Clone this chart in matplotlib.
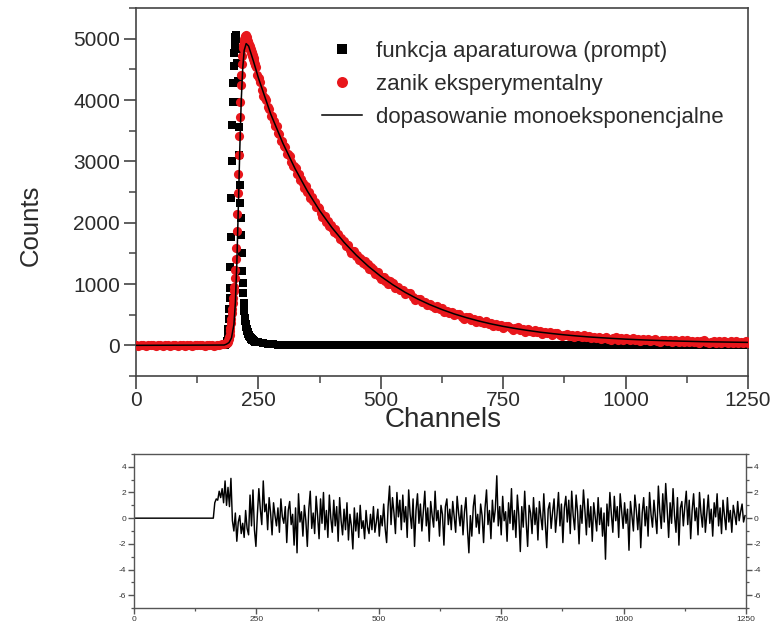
import numpy as np
import matplotlib
matplotlib.use("Agg")
import matplotlib.pyplot as plt
from matplotlib.ticker import MultipleLocator

plt.rcParams['font.family'] = ['Liberation Sans', 'DejaVu Sans']
plt.rcParams['axes.unicode_minus'] = False

# ---------------- data ----------------
# experimental decay (channel -> counts)
decay_ch = (list(range(0, 185, 5)) + list(range(185, 245))
            + list(range(245, 522, 3)) + list(range(525, 1251, 5)))
decay_counts = [
    6, -4, 9, 2, -7, 11, -2, 5, -9, 3, 8, -5, 2, 10, -3, 0, 7, -8, 4, 1,
    -6, 9, 2, -4, 6, 10, -1, 3, -7, 5, 11, 1, -4, 8, 12, 18, 26,
    35, 44, 58, 82, 104, 142, 176, 235, 286, 365, 432, 525, 596, 695, 772,
    880, 955, 1090, 1225, 1410, 1590, 1860, 2140, 2490, 2790, 3110, 3410,
    3730, 3970, 4240, 4410, 4590, 4710, 4840, 4890, 4970, 4990, 5040, 5030,
    5060, 5000, 5020, 4960, 4970, 4910, 4920, 4870, 4880, 4820, 4830, 4770,
    4790, 4720, 4740, 4670, 4690, 4620, 4640, 4570, 4590,
    4545, 4406, 4360, 4295, 4163, 4060, 4035, 3993, 3878, 3851,
    3739, 3733, 3653, 3570, 3577, 3469, 3448, 3338, 3329, 3256,
    3233, 3126, 3115, 3091, 2991, 2918, 2916, 2894, 2797, 2787,
    2692, 2704, 2641, 2573, 2596, 2505, 2500, 2405, 2411, 2352,
    2344, 2252, 2256, 2245, 2159, 2099, 2110, 2101, 2018, 2020,
    1938, 1962, 1911, 1855, 1890, 1810, 1816, 1732, 1749, 1701,
    1704, 1622, 1636, 1635, 1560, 1510, 1530, 1531, 1457, 1468,
    1395, 1427, 1385, 1338, 1381, 1310, 1324, 1248, 1273, 1233,
    1243, 1169, 1190, 1196, 1128, 1085, 1112, 1119, 1052, 1070,
    1004, 1043, 1007,
    1010, 929, 949, 905,
    906, 839, 849, 847, 786, 745, 761, 761, 702, 712,
    653, 680, 647, 610, 646, 590, 603, 544, 566, 535,
    546, 488, 507, 515, 462, 430, 455, 463, 412, 430,
    379, 413, 387, 358, 400, 351, 370, 318, 345, 321,
    337, 285, 310, 322, 275, 248, 278, 291, 245, 266,
    220, 259, 237, 216, 250, 215, 230, 192, 215, 198,
    211, 174, 193, 204, 170, 151, 174, 185, 152, 169,
    135, 165, 150, 132, 167, 134, 152, 117, 141, 126,
    141, 106, 127, 140, 107, 90, 115, 128, 95, 114,
    82, 113, 99, 83, 120, 88, 107, 73, 98, 84,
    101, 66, 89, 102, 71, 55, 80, 94, 63, 83,
    51, 83, 70, 54, 92, 61, 81, 47, 73, 60,
    77, 43, 67, 81, 50, 34, 60, 75, 44, 64,
    34, 66, 53, 38, 76, 45, 66, 32, 59, 46,
    64, 30,
]

# instrument response function (prompt)
prompt_ch = list(range(180, 246)) + list(range(250, 1251, 10))
prompt_counts = [
    4, 7, 11, 17, 27, 44, 78, 148, 262, 425, 590, 770, 940, 1280, 1770,
    2400, 3000, 3590, 3960, 4270, 4560, 4760, 4900, 5020, 5060, 4990, 4830,
    4610, 4310, 3960, 3560, 3110, 2620, 2320, 2080, 1800, 1500, 1210, 1020,
    850, 690, 560, 450, 390, 340, 300, 265, 235, 210, 190, 170, 155, 140,
    128, 118, 108, 100, 92, 86, 80, 75, 70, 66, 62, 58, 55,
    50, 36, 26, 18, 12, 9,
    6, 3, 7, 2, 5, -1, 4, 6, 1, 3, -2, 5, 2, 4, 0, 3, -1, 5, 2, 1,
    4, -2, 3, 0, 5, 1, -1, 4, 2, 0, 3, -2, 1, 4, 0, 2, -1, 3, 1, -2,
    2, 4, 0, 1, -1, 3, 0, 2, -2, 1, 3, 0, -1, 2, 1, -2, 3, 0, 1, -1,
    2, 0, 3, -2, 1, 0, 2, -1, 1, 0, 2, -1, 1, 0, 2, -2, 1, 0, 2, -1,
    1, 0, 2, -1, 1, 0, -2, 1, 0, 2, -1, 1, 0, 1, -1,
]

# mono-exponential fit
fit_ch = [0, 180, 185, 190, 195, 200, 203, 206, 209, 212, 215, 218, 221,
          225, 230, 240, 250] + list(range(275, 1251, 25))
fit_counts = [
    0, 5, 20, 45, 120, 340, 700, 1350, 2250, 3200, 4000, 4520, 4810,
    4920, 4880, 4630, 4360,
    3774, 3296, 2879, 2515, 2198, 1921, 1679, 1469, 1285, 1125, 985, 863,
    757, 664, 583, 512, 451, 397, 350, 309, 274, 243, 215, 192, 171, 153,
    137, 124, 112, 101, 92, 84, 77, 71, 66, 61, 57, 54, 51, 48,
]

# weighted residuals
res_ch = [0, 162] + list(range(165, 1249, 3))
residuals = [
    0, 0,
    1.2, 1.5, 1.4, 2.1, 1.6, 2.3, 1.2, 2.9, 1.0, 2.4, 0.9, 3.1, -0.2, -1.0, 0.4, -1.8, -0.3, 0.2, -1.2, -0.4,
    -1.5, 0.6, -0.8, -1.3, 1.8, -0.6, 2.2, -0.9, -2.2, 0.3, 2.3, 0.7, -0.5, 2.9, 0.5, 1.1, -0.9, 1.6, 0.4, -1.3,
    1.2, 0.2, -0.6, 0.8, -1.1, 1.5, 0.1, -0.4, 0.9, -1.9, 0.6, 1.3, -0.5, 0.3, -2.1, 0.8, -2.7, 1.9, -0.3, 0.5,
    -1.4, 1.0, -0.2, -2.2, 0.7, 2.1, -0.8, 0.4, -1.2, 1.7, 0.2, -1.6, 1.5, -0.4, 2.0, -0.9, 0.6, -1.5, 1.8, 0.0,
    -1.1, 1.4, -0.6, 0.9, -1.8, 1.6, -0.2, -1.3, 0.7, -0.9, 1.2, -1.7, 0.3, -0.6, -2.4, 0.8, -1.0, 0.4, -1.5, 1.0,
    -0.8, -0.2, -1.6, 0.6, -0.7, -1.2, 0.3, -0.9, 0.9, -1.1, -0.3, 0.7, -1.4, 0.2, -0.6, 1.1, -0.8, -1.9, 0.9, 2.5,
    -0.5, 1.6, 0.4, -1.2, 2.0, 0.1, 1.4, -0.9, 1.8, -0.3, 0.9, -1.5, 2.2, 0.3, -0.8, 1.5, -2.2, 0.6, 1.9, -0.4,
    1.1, -1.0, 0.5, 2.1, -0.6, 0.8, -1.8, 1.3, 0.2, -0.7, 2.1, -0.2, 0.6, -1.4, 1.0, 0.3, -2.1, 0.9, 1.5, -0.5,
    0.7, -0.9, 1.3, 0.1, -1.1, 1.7, 0.4, -0.6, 1.0, -1.3, 0.5, 1.6, -0.8, -2.7, 0.2, -1.4, 0.9, 1.8, -0.7, 0.3,
    -1.2, 1.1, 0.2, -1.9, 0.8, 2.2, -0.5, 0.6, -1.6, 1.4, -0.3, 0.7, 3.3, -0.6, 0.9, -1.3, 1.7, -0.2, 0.5, -1.8,
    1.2, -0.4, 2.3, -0.9, 0.6, -1.5, 1.8, 0.2, -2.6, 0.9, -0.7, 2.1, -0.3, -2.2, 1.0, 0.4, -1.2, 1.6, -0.5, 0.8,
    -1.7, 1.3, 0.1, -0.9, 1.9, -0.4, -2.3, 0.7, 1.2, -0.8, 0.5, 1.5, -1.1, 0.3, 2.0, -0.6, 1.1, -1.9, 0.8, 1.7,
    -0.3, 1.4, -1.2, 2.1, 0.2, -0.9, 1.8, 0.5, -2.0, 1.0, -0.4, 2.2, 0.6, -1.3, 1.5, -0.7, 0.9, -1.8, 1.2, 0.1,
    -1.0, 1.6, -0.5, 0.8, -1.4, 0.4, -3.2, 1.1, -0.6, 2.0, 0.3, -1.1, 1.7, -0.2, 0.9, -1.5, 1.9, 0.5, -0.8, 1.2,
    -0.4, 0.7, -2.5, 1.3, 0.2, -1.0, 1.8, 0.6, -0.9, 1.1, -2.3, 0.4, 1.6, -0.6, 0.9, -1.4, 2.0, 0.3, -0.7, 1.4,
    0.1, -1.2, 2.5, 0.5, -0.8, 1.9, -0.3, 2.7, 0.7, -1.5, 1.2, -0.4, 2.3, 0.2, -1.1, 1.6, -2.1, 0.8, 1.3, -0.6,
    0.9, 2.1, -0.5, 1.4, -1.6, 0.6, 1.9, -0.2, 0.8, -1.3, 2.0, 0.4, -0.7, 1.5, -1.1, 0.3, 1.8, -0.4, 0.7, -1.4,
    1.2, 0.1, 1.9, -0.6, 0.8, -1.2, 1.4, 0.2, -0.9, 1.6, -0.3, 0.6, -1.1, 1.0, 0.3, -0.5, 1.3, -0.2, 0.5, 1.1,
    -0.3, 0.2,
]

legend_labels = ['funkcja aparaturowa (prompt)', 'zanik eksperymentalny',
                 'dopasowanie monoeksponencjalne']

W, H = 783, 628
spine_col = '#444444'
text_col = '#2b2b2b'
red = '#e8161b'

fig = plt.figure(figsize=(W / 100, H / 100), dpi=100)

# ---------------- decay panel ----------------
ax = fig.add_axes([136 / W, 1 - 376 / H, 612 / W, 368 / H])
ax.plot(prompt_ch, prompt_counts, ls='none', marker='s', ms=5.8, mew=0,
        color='black', label=legend_labels[0], zorder=2)
ax.plot(decay_ch, decay_counts, ls='none', marker='o', ms=6.6, mew=0,
        color=red, label=legend_labels[1], zorder=3)
ax.plot(fit_ch, fit_counts, color='black', lw=1.1, label=legend_labels[2], zorder=4)

ax.set_xlim(0, 1250)
ax.set_ylim(-500, 5500)
ax.xaxis.set_major_locator(MultipleLocator(250))
ax.xaxis.set_minor_locator(MultipleLocator(125))
ax.yaxis.set_major_locator(MultipleLocator(1000))
ax.yaxis.set_minor_locator(MultipleLocator(500))
ax.tick_params(which='major', direction='out', length=9, width=1.2,
               labelsize=15, color=spine_col, labelcolor=text_col)
ax.tick_params(axis='x', which='major', pad=1.5)
ax.tick_params(axis='y', which='major', pad=2.5)
ax.tick_params(which='minor', direction='out', length=5, width=1.1, color=spine_col)
ax.tick_params(top=False, right=False, which='both')
for s in ax.spines.values():
    s.set_color(spine_col)
    s.set_linewidth(1.2)

fig.text(443 / W, 1 - 420 / H, 'Channels', fontsize=20, color=text_col,
         ha='center', va='center')
fig.text(31 / W, 1 - 225 / H, 'Counts', fontsize=18.5, color=text_col,
         ha='center', va='center', rotation=90)

ax.legend(loc='upper left', bbox_to_anchor=((322 - 136) / 612, (376 - 41) / 368),
          frameon=False, fontsize=16, handlelength=1.8, handletextpad=0.65,
          labelspacing=0.54, borderpad=0, borderaxespad=0, markerscale=1.2,
          labelcolor=text_col)

# ---------------- residual panel ----------------
ax2 = fig.add_axes([134 / W, 1 - 608 / H, 612 / W, 154 / H])
ax2.plot(res_ch, residuals, color='black', lw=1.05)
ax2.set_xlim(0, 1250)
ax2.set_ylim(-7, 5)
ax2.xaxis.set_major_locator(MultipleLocator(250))
ax2.xaxis.set_minor_locator(MultipleLocator(125))
ax2.yaxis.set_major_locator(MultipleLocator(2))
ax2.yaxis.set_minor_locator(MultipleLocator(1))
ax2.tick_params(which='both', direction='out', left=True, right=True,
                labelleft=True, labelright=True, top=False,
                color='#555555', labelcolor='#333333', labelsize=6, pad=1.5)
ax2.tick_params(which='major', length=4, width=1.0)
ax2.tick_params(which='minor', length=2.5, width=0.9)
for s in ax2.spines.values():
    s.set_color('#555555')
    s.set_linewidth(1.0)

fig.savefig('out.png', dpi=100)
